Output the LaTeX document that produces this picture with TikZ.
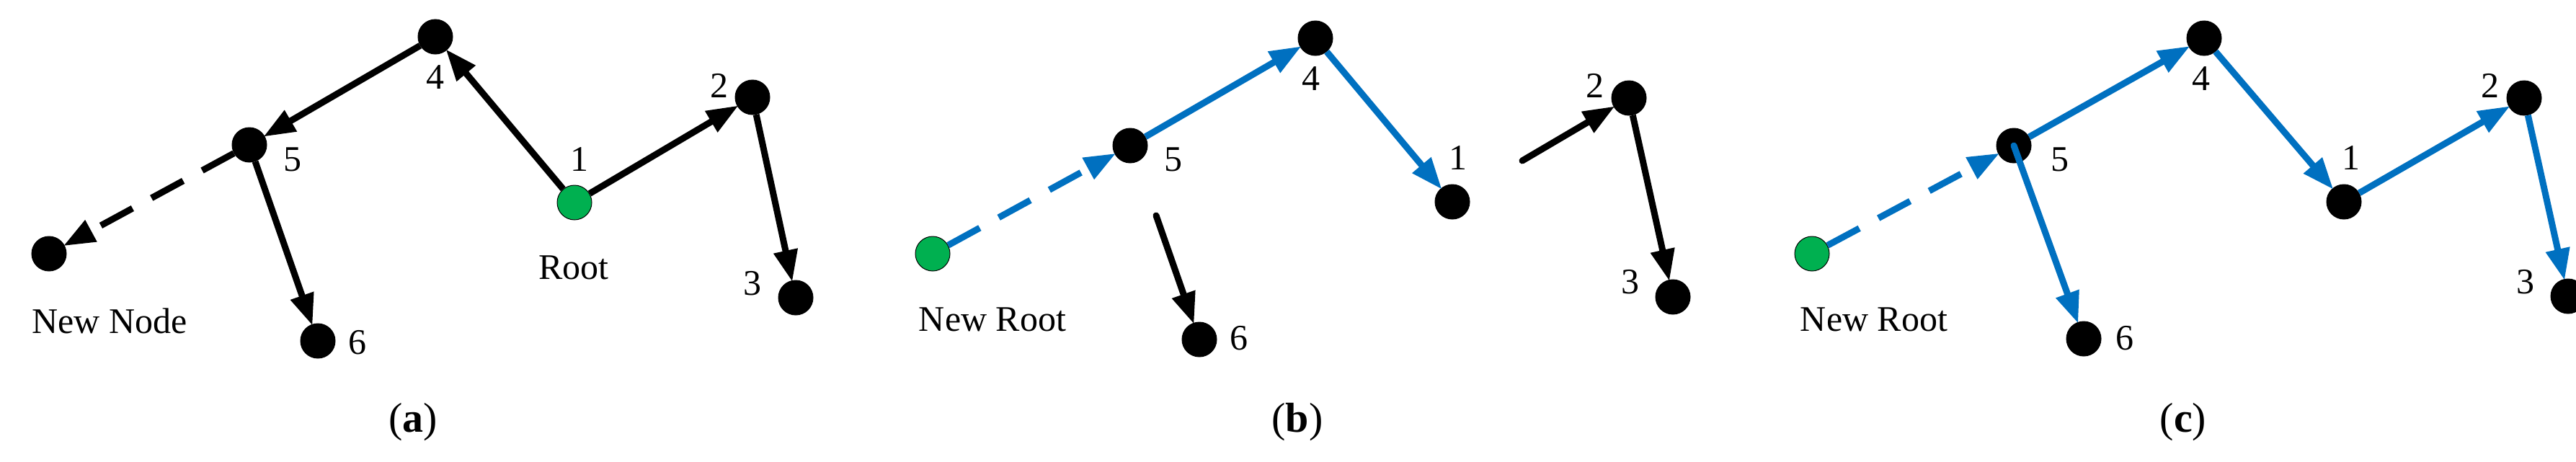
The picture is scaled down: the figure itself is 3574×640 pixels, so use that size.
\documentclass[tikz,border=0pt]{standalone}
\usepackage{fontspec}
\setmainfont{Liberation Serif}
\usetikzlibrary{arrows.meta}
\definecolor{bl}{HTML}{0070C0}
\definecolor{gr}{HTML}{00B050}
\begin{document}
\begin{tikzpicture}[x=1pt,y=-1pt,
 dot/.style={circle,fill=black,draw=black,line width=1pt,minimum size=48pt,inner sep=0pt},
 gdot/.style={dot,fill=gr},
 lab/.style={font=\fontsize{50}{50}\selectfont,inner sep=0pt},
 subcap/.style={font=\fontsize{58}{58}\selectfont,inner sep=0pt},
 ed/.style={line width=9pt,-{Triangle[length=44pt,width=32pt]},shorten >=-2pt},
 be/.style={ed,draw=bl},
 da/.style={dash pattern=on 50pt off 30pt}]
\useasboundingbox (0,0) rectangle (3574,640);
% (a)
\node[dot] (a4) at (604,51) {};
\node[dot] (a5) at (346,201) {};
\node[dot] (an) at (68,352) {};
\node[dot] (a6) at (441,473) {};
\node[gdot] (a1) at (797,281) {};
\node[dot] (a2) at (1044,135) {};
\node[dot] (a3) at (1104,413) {};
\draw[ed] (a1) -- (a4);
\draw[ed] (a4) -- (a5);
\draw[ed,da] (a5) -- (an);
\draw[ed] (a5) -- (a6);
\draw[ed] (a1) -- (a2);
\draw[ed] (a2) -- (a3);
\node[lab] at (604,107) {4};
\node[lab] at (406,221) {5};
\node[lab] at (804,221) {1};
\node[lab] at (998,119) {2};
\node[lab] at (1044,393) {3};
\node[lab] at (496,475) {6};
\node[lab] at (796,371) {Root};
\node[lab] at (152,445) {New Node};
\node[subcap] at (573,586) {(\textbf{a})};
% (b)
\node[dot] (b4) at (1825,53) {};
\node[dot] (b5) at (1568,202) {};
\node[gdot] (bn) at (1294,352) {};
\node[dot] (b1) at (2015,280) {};
\node[dot] (b2) at (2260,136) {};
\node[dot] (b3) at (2321,412) {};
\node[dot] (b6) at (1664,471) {};
\coordinate (b2s) at (2112,223);
\coordinate (b6s) at (1604,299);
\draw[be,da] (bn) -- (b5);
\draw[be] (b5) -- (b4);
\draw[be] (b4) -- (b1);
\draw[ed,line cap=round] (b6s) -- (b6);
\draw[ed,line cap=round] (b2s) -- (b2);
\draw[ed] (b2) -- (b3);
\node[lab] at (1819,109) {4};
\node[lab] at (1628,221) {5};
\node[lab] at (2023,219) {1};
\node[lab] at (2213,119) {2};
\node[lab] at (2262,391) {3};
\node[lab] at (1719,469) {6};
\node[lab] at (1377,443) {New Root};
\node[subcap] at (1800,586) {(\textbf{b})};
% (c)
\node[dot] (c4) at (3058,53) {};
\node[dot] (c5) at (2794,202) {};
\node[gdot] (cn) at (2514,352) {};
\node[dot] (c1) at (3252,280) {};
\node[dot] (c2) at (3502,136) {};
\node[dot] (c3) at (3563,411) {};
\node[dot] (c6) at (2891,470) {};
\draw[be,da] (cn) -- (c5);
\draw[be] (c5) -- (c4);
\draw[be] (c4) -- (c1);
\draw[be] (c1) -- (c2);
\draw[be] (c2) -- (c3);
\draw[be,line cap=round] (c5.center) -- (c6);
\node[lab] at (3054,109) {4};
\node[lab] at (2858,221) {5};
\node[lab] at (3262,219) {1};
\node[lab] at (3455,119) {2};
\node[lab] at (3504,391) {3};
\node[lab] at (2948,469) {6};
\node[lab] at (2600,443) {New Root};
\node[subcap] at (3029,586) {(\textbf{c})};
\end{tikzpicture}
\end{document}
